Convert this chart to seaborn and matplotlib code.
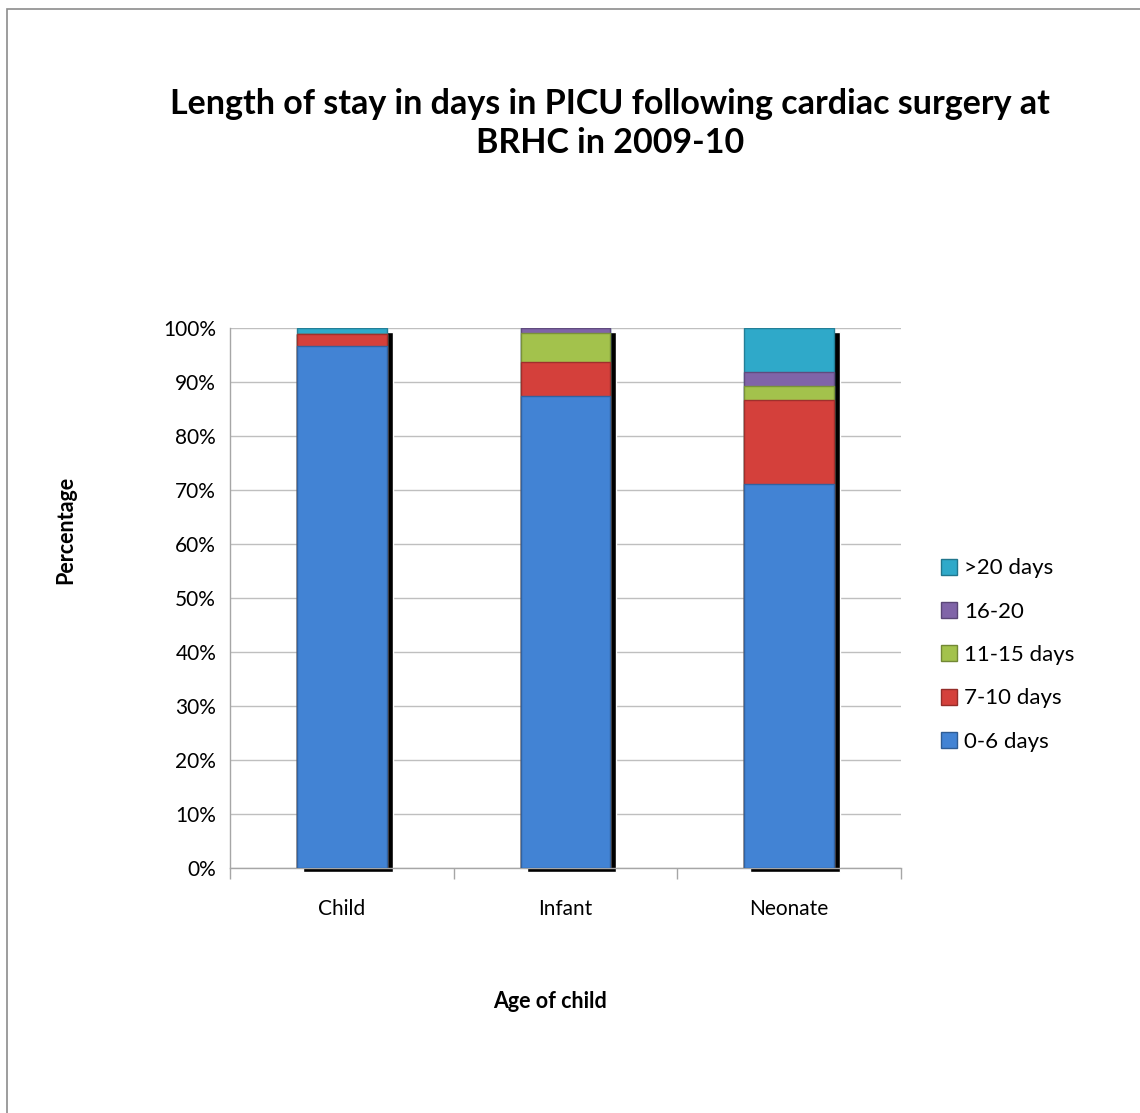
import matplotlib
matplotlib.use("Agg")
import matplotlib.pyplot as plt
import matplotlib.transforms as mtransforms
from matplotlib.patches import Rectangle
from matplotlib.lines import Line2D
import numpy as np
import pandas as pd
import seaborn as sns

# Length-of-stay share (%) per age group
age_groups = ["Child", "Infant", "Neonate"]
stay_bands = ["0-6 days", "7-10 days", "11-15 days", "16-20", ">20 days"]
days_0_6 = [96.6, 87.4, 71.1]
days_7_10 = [2.2, 6.3, 15.6]
days_11_15 = [0.0, 5.3, 2.6]
days_16_20 = [0.0, 1.0, 2.6]
days_over_20 = [1.2, 0.0, 8.1]
band_colors = ["#4283D4", "#D4403B", "#A3C24C", "#8064A8", "#2FA9C9"]

sns.set_theme(style="white")
plt.rcParams["font.family"] = ["Lato", "DejaVu Sans"]
plt.rcParams["text.color"] = "black"
plt.rcParams["axes.labelcolor"] = "black"
plt.rcParams["xtick.color"] = "black"
plt.rcParams["ytick.color"] = "black"


def darker(c, f):
    return matplotlib.colors.to_hex(np.array(matplotlib.colors.to_rgb(c)) * f)


df = pd.DataFrame({
    "age": age_groups,
    stay_bands[0]: days_0_6,
    stay_bands[1]: days_7_10,
    stay_bands[2]: days_11_15,
    stay_bands[3]: days_16_20,
    stay_bands[4]: days_over_20,
})
cum = df[stay_bands].cumsum(axis=1)

fig = plt.figure(figsize=(11.4, 11.13), dpi=100)
ax = fig.add_axes([0.2018, 0.2201, 0.5886, 0.4852])

bar_w = 0.40

# drop shadow behind each stacked column
n_before = len(ax.patches)
sns.barplot(x=df["age"], y=cum[stay_bands[-1]], color="black", width=bar_w,
            saturation=1, ax=ax, zorder=2, order=age_groups)
shadow_tr = mtransforms.offset_copy(ax.transData, fig=fig, x=6, y=-4, units="dots")
for p in ax.patches[n_before:]:
    p.set_transform(shadow_tr)
    p.set_clip_on(False)

# stacked segments, drawn from the tallest cumulative layer down
for band, color in zip(reversed(stay_bands), reversed(band_colors)):
    sns.barplot(x=df["age"], y=cum[band], color=color, width=bar_w,
                saturation=1, ax=ax, zorder=3, order=age_groups,
                edgecolor=darker(color, 0.75), linewidth=1.0)

ax.set_xlim(-0.5, 2.5)
ax.set_ylim(0, 100)
ax.set_yticks(np.arange(0, 101, 10))
ax.set_yticklabels([f"{v}%" for v in range(0, 101, 10)], fontsize=15)
ax.set_xticks([0, 1, 2])
ax.set_xticklabels(age_groups, fontsize=15)
ax.tick_params(axis="x", length=0, pad=22)
ax.tick_params(axis="y", length=0, pad=10)
# category boundary ticks
ax.set_xticks([-0.5, 0.5, 1.5, 2.5], minor=True)
ax.tick_params(axis="x", which="minor", length=8, color="#A6A6A6", width=1, direction="out", bottom=True)
ax.set_yticks(np.arange(0, 101, 10), minor=True)
ax.tick_params(axis="y", which="minor", length=8, color="#A6A6A6", width=1, direction="out", left=True)

ax.yaxis.grid(True, color="#BFBFBF", linewidth=1)
ax.set_axisbelow(True)
for s in ["top", "right"]:
    ax.spines[s].set_visible(False)
for s in ["left", "bottom"]:
    ax.spines[s].set_color("#A6A6A6")
    ax.spines[s].set_linewidth(1)

ax.set_xlabel("Age of child", fontsize=15.5, fontweight="bold")
ax.set_ylabel("Percentage", fontsize=15.5, fontweight="bold")
ax.xaxis.set_label_coords(0.477, -0.228)
ax.yaxis.set_label_coords(-0.229, 0.626)

fig.text(0.535, 0.889, "Length of stay in days in PICU following cardiac surgery at\nBRHC in 2009-10",
         ha="center", va="center", fontsize=24.5, fontweight="bold", linespacing=1.3)

handles = [Line2D([], [], marker="s", linestyle="none", markersize=11,
                  markerfacecolor=c, markeredgecolor=darker(c, 0.7))
           for c in band_colors]
fig.legend(handles[::-1], stay_bands[::-1], loc="center left",
           bbox_to_anchor=(0.805, 0.4115), frameon=False, fontsize=16,
           labelspacing=1.05, handletextpad=0.2, handlelength=1.0)

# chart area border
fig.add_artist(Rectangle((7 / 1140, -0.01), 1.05, 1 - 9 / 1113 + 0.01,
                         transform=fig.transFigure, fill=False,
                         edgecolor="#8C8C8C", linewidth=1.2))

fig.savefig("out.png", dpi=100, facecolor="white")
